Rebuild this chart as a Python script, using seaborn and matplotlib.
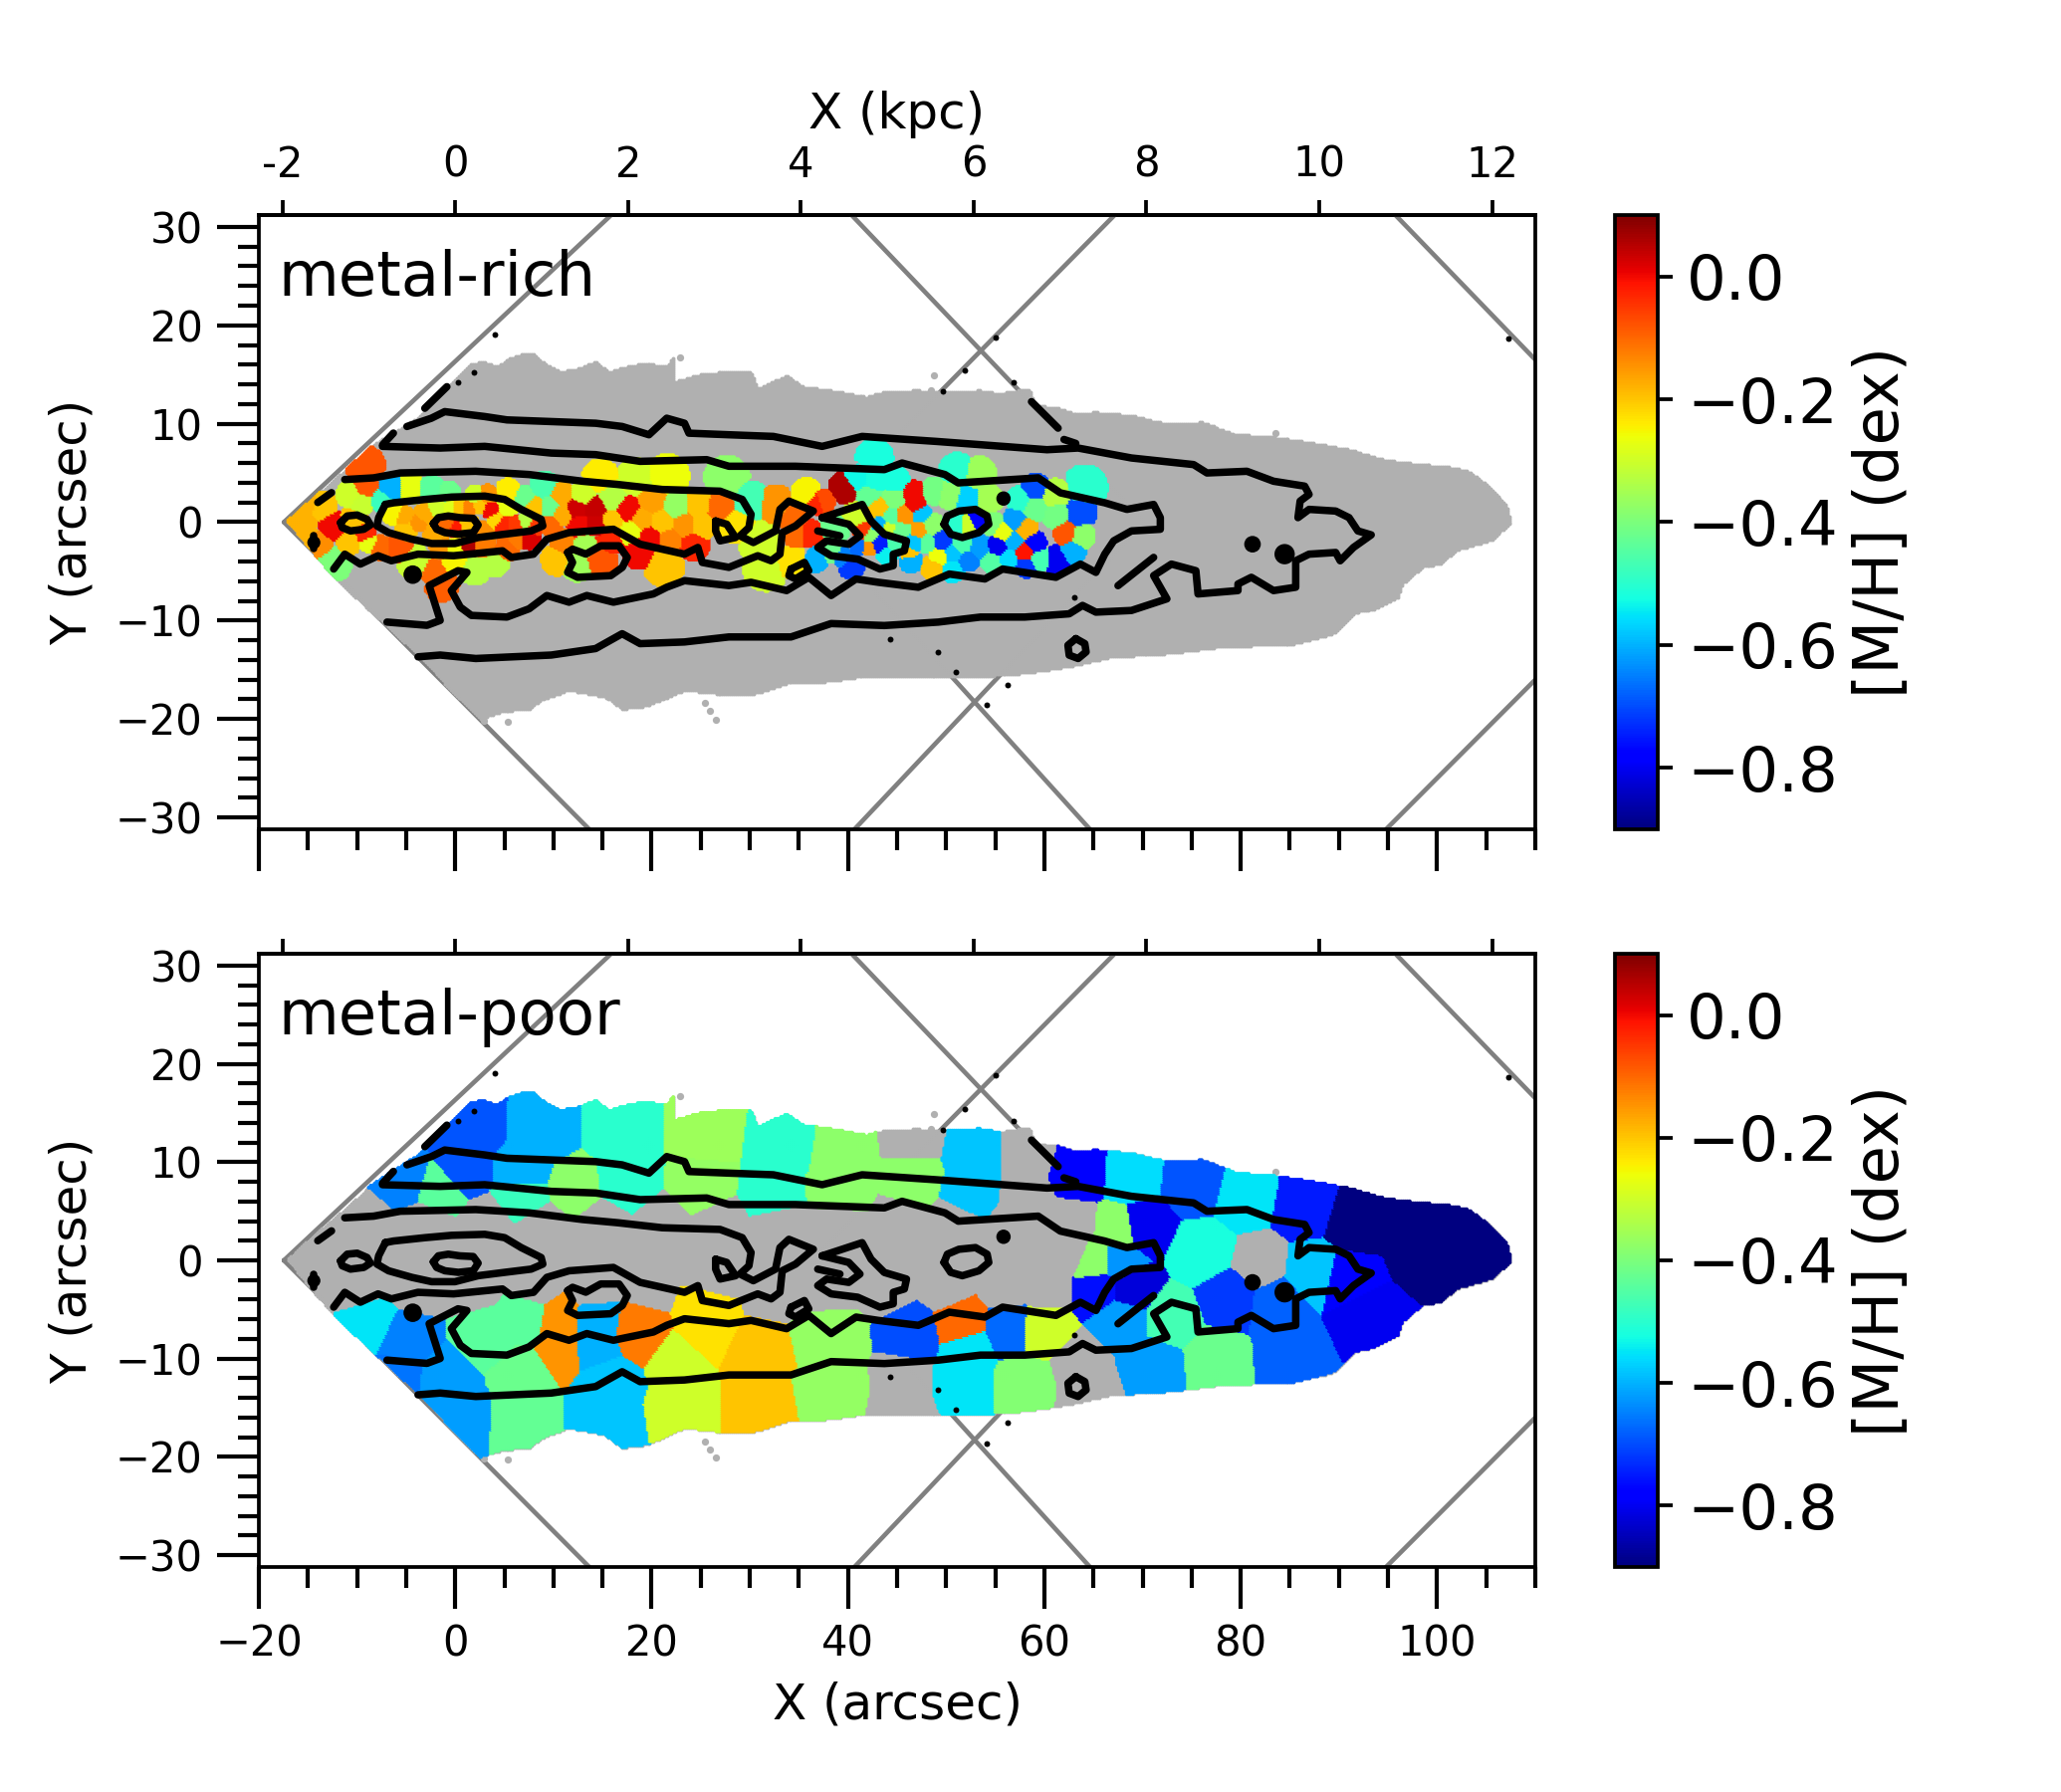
#!/usr/bin/env python3
# -*- coding: utf-8 -*-

"""Metal-rich / metal-poor [M/H] Voronoi maps with surface brightness contours"""

import numpy as np
import pandas as pd
import matplotlib
matplotlib.use("Agg")
import matplotlib.pyplot as plt
from matplotlib.path import Path
from matplotlib.cm import ScalarMappable
from matplotlib.colors import Normalize
from matplotlib.ticker import MultipleLocator
import seaborn as sns

# galaxy footprint (arcsec)
outline = [
    (-17.13, 0.12), (-8.31, 7.87), (-3.79, 10.73), (0.74, 15.27), (1.64, 16.1), (3.0, 16.28), (4.13, 15.78),
    (5.26, 16.45), (6.4, 16.96), (7.97, 17.12), (8.88, 16.28), (10.69, 15.27), (12.5, 15.61), (14.3, 16.28),
    (15.66, 15.27), (17.92, 15.95), (19.73, 16.1), (21.54, 15.78), (22.22, 16.79), (22.22, 14.26), (25.16, 15.1),
    (27.87, 15.27), (30.13, 15.27), (30.81, 13.59), (33.75, 14.94), (35.56, 13.76), (38.28, 13.42), (41.89, 12.75),
    (43.7, 13.25), (46.87, 13.42), (49.87, 13.25), (53.49, 13.42), (55.3, 13.08), (58.46, 13.59), (58.92, 12.41),
    (59.37, 11.9), (61.63, 11.57), (63.3, 11.0), (65.25, 11.23), (68.87, 10.9), (72.48, 10.05), (76.1, 10.22),
    (79.72, 8.88), (83.5, 8.6), (87.41, 8.03), (91.03, 7.36), (94.65, 6.35), (98.0, 5.9), (101.0, 5.68),
    (103.24, 5.17), (105.5, 3.5), (107.3, 1.47), (107.54, -0.22), (105.5, -1.9), (101.9, -2.91), (100.53, -4.26),
    (98.5, -4.6), (96.46, -6.28), (96.0, -7.62), (93.29, -8.97), (91.6, -9.3), (89.67, -11.33), (85.15, -12.5),
    (78.37, -12.67), (71.58, -13.5), (67.06, -13.68), (62.53, -14.69), (58.01, -15.37), (53.49, -15.7),
    (44.44, -15.6), (41.44, -15.7), (37.8, -16.2), (33.75, -16.4), (30.58, -17.4), (27.87, -17.55), (23.35, -17.05),
    (21.09, -18.06), (19.73, -18.73), (17.0, -19.07), (15.2, -17.72), (11.59, -17.05), (8.88, -18.06),
    (7.52, -19.07), (4.8, -19.3), (2.54, -20.08), (1.64, -19.07), (-4.69, -12.67), (-12.38, -5.6),
]
stray_x = [25.4, 25.9, 26.5, 48.74, 48.4, 83.57, 22.9, 2.9, 5.4]
stray_y = [-18.4, -19.2, -20.1, 14.87, 13.4, 9.05, 16.7, -20.2, -20.3]

# MUSE field edges (arcsec)
field1_x = [-17.45, 28.8, 70.2, 27.5, -17.45]
field1_y = [0.0, 43.3, 0.0, -45.1, 0.0]
field2_x = [36.3, 81.6, 126.0, 79.0, 36.3]
field2_y = [0.0, 45.8, 0.0, -47.0, 0.0]

# metal-rich bins
rich_x = [-15.57, -15.0, -15.0, -13.54, -12.36, -13.88, -12.53, -10.67, -9.49, -9.15, -8.98, -6.62, -7.46,
          -4.42, -2.4, -0.71, 2.0, 3.34, 5.37, 7.06, 9.09, 9.59, 8.07, -10.33, -9.15, -10.67, -8.81, -7.63,
          -5.77, -6.28, -5.1, -3.75, -4.93, -3.07, -1.72, -0.54, 0.48, 1.49, 2.5, 3.58, 4.19, 5.37, 4.86, 6.2,
          7.23, 8.07, -0.71, -0.03, 1.32, -2.06, 3.0, 6.38, 7.57, -1.38, 0.14, 1.39, 3.0, 5.37, -4.08, -2.06,
          -1.38, 2.0, 4.02, -0.03, 10.43,
          10.77, 10.94, 9.76, 12.97, 14.82, 12.46, 14.32, 12.63, 14.32, 11.11, 13.13, 12.46, 14.82, 16.0, 17.69,
          16.07, 17.86, 15.84, 18.37, 21.58, 20.06, 19.04, 19.89, 18.7, 21.24, 21.17, 21.91, 22.59, 23.43, 24.28,
          24.78, 25.29, 26.98, 27.66, 30.02, 28.67, 32.72, 35.76, 31.03, 31.7, 34.4, 34.75, 34.4, 36.1, 36.94,
          36.94,
          39.65, 37.46, 42.69, 41.0, 42.69, 44.88, 42.18, 44.72, 46.74, 46.91, 48.77, 43.2, 44.38, 45.9, 47.52,
          50.29, 51.13, 53.33, 52.31, 54.17, 54.85, 45.56, 47.25, 48.6, 48.09, 49.61, 50.96, 52.31, 53.16, 51.64,
          53.5, 55.29, 55.86, 57.04, 57.04, 58.22, 59.07, 57.55, 59.07, 61.1, 61.26, 63.63, 62.28, 63.8, 64.13,
          59.07, 58.05, 56.37, 54.68, 52.31, 50.8, 49.27, 48.77, 50.62, 58.22, 59.58, 61.36, 62.95,
          38.8, 40.83, 42.35, 44.04, 44.88, 43.2, 42.18, 41.17, 41.5, 40.33, 38.47, 36.78, 39.48, 44.04, 46.24,
          46.4, 46.74, 43.3]
rich_y = [0.29, 2.0, -2.0, 1.64, -0.38, -2.23, -4.09, 2.82, 1.97, 5.68, 3.66, 3.49, 2.31,
          3.32, 3.32, 2.98, 2.8, 2.8, 3.15, 2.48, 3.66, 1.64, 1.64, 0.29, -1.22, -1.9, -2.07, -2.57,
          -2.57, 0.96, 0.63, -0.05, -0.72, 0.8, 1.47, 1.47, 1.47, 1.47, 1.64, 1.3, 0.29, 1.64, -0.21, -0.21,
          0.12, -0.38, -0.21, -0.55, -0.38, -1.06, -1.06, -1.73, -1.73, -2.57, -2.57, -2.4, -2.4, -2.57, -4.09, -5.1,
          -6.27, -4.76, -4.09, -3.92, -3.75,
          2.82, 0.8, -0.21, 2.82, 4.5, 1.47, 1.47, -0.21, -0.15, -2.07, -2.4, -4.42, -3.85, 2.48, 1.3,
          0.12, -0.89, -1.73, 4.33, 4.67, 2.14, 0.46, -1.56, -3.08, -4.42, 0.12, -1.73, 1.64, -0.21, -2.24,
          1.81, -0.21, 1.47, 4.33, 2.14, -0.21, 1.81, 2.98, -1.9, -4.59, 0.46, -1.22, -3.92, -1.22, -3.41,
          1.97,
          3.49, 2.14, 6.52, 4.5, 4.33, 4.16, 2.82, 2.48, 2.98, 1.97, 3.15, 1.47, 0.63, 0.73, 0.8,
          2.82, 5.17, 4.84, 2.31, 2.31, -0.21, -0.72, -0.72, -0.21, -2.07, -1.9, -0.21, -0.21, 0.19, -2.24,
          -2.57, -2.4, -0.89, 0.29, -1.9, -0.62, 1.47, 2.31, 3.49, 2.82, 0.8, 0.96, -1.06, -1.39, 3.49,
          -2.07, -2.91, -3.58, -3.92, -3.75, -3.08, -3.41, -4.59, -4.76, -4.42, -3.75, -3.92, -2.91,
          -0.55, 0.63, -1.39, -0.55, -2.24, -2.24, -2.57, -2.4, -0.89, -4.42, -3.07, -3.92, -3.58, -3.25, -3.08,
          -3.92, -2.07, -0.22]
rich_mh = [-0.18, -0.18, -0.18, -0.2, 0.0, -0.14, -0.4, -0.3, -0.31, -0.08, -0.08, -0.6, -0.48,
           -0.27, -0.44, -0.42, -0.3, -0.15, -0.24, -0.42, -0.46, -0.42, -0.2, -0.2, -0.03, -0.2, -0.27, -0.1,
           -0.08, -0.25, -0.17, -0.15, -0.2, -0.17, -0.3, -0.28, -0.2, -0.13, -0.2, 0.0, -0.22, -0.27, -0.03, -0.05,
           -0.33, -0.05, -0.1, -0.02, -0.2, -0.17, -0.14, -0.12, 0.02, -0.15, -0.26, 0.06, -0.12, -0.1, -0.31, -0.1,
           -0.09, -0.33, -0.33, -0.25, -0.2,
           -0.17, -0.17, -0.1, -0.3, -0.24, 0.03, 0.04, 0.0, 0.03, -0.13, -0.35, -0.36, -0.08, -0.33, 0.0,
           -0.2, -0.27, -0.03, -0.3, -0.26, -0.16, -0.17, 0.0, 0.0, -0.2, -0.2, -0.13, -0.37, -0.15, -0.03,
           -0.2, -0.2, -0.1, -0.38, -0.47, -0.23, -0.15, -0.25, -0.3, -0.3, -0.1, -0.1, -0.23, -0.03, -0.6,
           -0.03,
           0.06, -0.07, -0.52, -0.53, -0.52, -0.52, -0.43, -0.4, 0.0, 0.0, -0.41, -0.2, -0.44, -0.15, -0.58,
           -0.38, -0.5, -0.36, -0.57, -0.35, -0.4, -0.42, -0.16, -0.38, -0.44, -0.72, -0.5, -0.3, -0.78, -0.46,
           -0.62, -0.8, -0.27, -0.62, -0.6, -0.18, -0.42, -0.5, -0.7, -0.33, -0.41, -0.7, -0.08, -0.38, -0.5,
           -0.78, -0.01, -0.56, -0.45, -0.65, -0.58, -0.26, -0.2, -0.55, -0.72, -0.47, -0.8, -0.6,
           -0.42, -0.3, -0.38, -0.3, -0.46, -0.75, -0.15, -0.67, -0.05, -0.72, -0.42, -0.6, -0.65, -0.54, -0.2,
           -0.6, -0.58, -0.6]

# metal-poor bins, nan = no measurement (stays grey)
poor_x = [1.64, 0.74, 8.88, 7.07, 17.02, 17.47, 25.61, 25.16, 12.04, 33.3, 32.4, 39.63, 39.18, -5.14, -1.53, 7.07,
          -8.76, -5.15, -5.82, -1.07, 0.28, 3.45, 7.07, 7.07, 7.07, 10.69, 10.69, 14.3, 14.3, 15.66, 15.21, 18.83,
          22.9, 23.35, 25.61, 25.4, 30.58, 30.8, 38.28, 38.5,
          46.5, 51.68, 52.36, 51.68, 56.43, 59.82, 58.01, 53.04, 52.6, 46.5, 63.67, 68.87, 75.2, 80.63, 86.5,
          98.72, 93.29, 101.0, 91.9, 92.84, 70.2, 76.1, 87.41, 78.82, 83.8, 85.15, 77.46, 71.13, 72.94, 67.96,
          68.87, 65.7, 67.51, 65.4, 67.51, 91.0,
          -14.0, -9.0, -3.0, 3.0, 9.0, 15.0, 21.0, 27.0, 33.0, 39.0, 45.0, 51.0, 57.0, 63.0,
          -10.0, -4.0, 2.0, 8.0, 14.0, 20.0, 26.0, 32.0, 38.0, 44.0, 50.0, 56.0, 60.0, 62.5,
          46.5, 58.01, 58.01, 81.98, 45.5, 45.8, 63.44, 64.34]
poor_y = [13.35, 9.31, 13.02, 8.98, 13.02, 7.97, 13.02, 7.63, 7.29, 12.0, 6.62, 11.0, 6.96, 8.3, 7.29, 6.62,
          -6.51, -8.2, -11.57, -12.24, -15.6, -7.52, -5.84, -11.23, -15.94, -8.87, -6.5, -6.51, -8.5, -12.24, -15.94, -7.19,
          -10.2, -14.6, -7.19, -4.5, -9.54, -14.6, -7.86, -13.25,
          -7.53, -6.5, -8.87, -12.24, -7.02, -7.19, -12.24, 10.66, 6.96, 8.5, 8.88, 8.54, 7.87, 6.52, 5.51,
          1.13, 4.5, 1.2, 3.9, -5.5, 3.59, 0.89, -1.1, -3.82, -4.5, -9.2, -9.89, -10.55, -5.84, -5.84,
          -2.81, -2.64, -0.2, -0.22, 3.15, -1.9,
          0.0, 3.6, 3.6, 3.6, 3.6, 3.6, 3.6, 3.6, 3.6, 3.6, 3.6, 3.6, 3.6, 3.6,
          -2.5, -2.5, -2.5, -2.5, -2.5, -2.5, -2.0, -2.5, -2.5, -2.5, -2.5, -2.5, -2.5, 1.0,
          12.0, 10.56, 6.2, -0.45, -14.5, -12.0, -10.55, -12.9]
nan = float("nan")
poor_mh = [-0.69, -0.69, -0.6, -0.6, -0.5, -0.5, -0.36, -0.37, -0.38, -0.5, -0.5, -0.38, -0.38, -0.65, -0.44, -0.48,
           -0.55, -0.65, -0.66, -0.62, -0.62, -0.44, -0.44, -0.42, -0.43, -0.15, -0.15, -0.6, -0.6, -0.58, -0.58, -0.12,
           -0.3, -0.3, -0.23, -0.23, -0.2, -0.2, -0.37, -0.37,
           -0.7, -0.1, -0.55, -0.55, -0.67, -0.3, -0.39, -0.58, -0.58, -0.38, -0.79, -0.56, -0.69, -0.55, -0.75,
           -0.9, -0.9, -0.9, -0.9, -0.8, -0.8, -0.52, -0.58, -0.72, -0.68, -0.68, -0.42, -0.62, -0.47, -0.62,
           -0.82, -0.76, -0.63, -0.38, -0.38, -0.78,
           nan, nan, nan, nan, nan, nan, nan, nan, nan, nan, nan, nan, nan, nan,
           nan, nan, nan, nan, nan, nan, nan, nan, nan, nan, nan, nan, nan, nan,
           nan, nan, nan, nan, nan, nan, nan, nan]

# isophotes
iso_outer = [(-4.92, 9.72), (-2.43, 10.56), (-1.07, 11.23), (3.0, 10.73), (5.26, 10.39), (9.78, 10.22), (14.3, 10.05),
             (17.0, 9.72), (19.73, 8.88), (21.54, 10.56), (23.35, 10.05), (23.8, 9.04), (27.87, 8.88), (32.4, 8.71),
             (37.37, 7.7), (41.44, 8.71), (49.04, 8.2), (53.49, 7.87), (60.27, 7.36), (63.44, 7.53), (68.87, 6.52),
             (75.2, 5.85), (76.56, 5.0), (80.63, 5.17), (83.34, 4.16), (86.51, 3.66), (86.96, 2.82), (86.05, 2.14),
             (85.83, 0.46), (86.96, 1.3), (89.67, 1.13), (91.03, 0.46), (91.93, -0.89), (93.29, -1.29), (91.48, -2.57),
             (90.13, -3.92), (89.67, -3.08), (86.96, -3.25), (85.6, -3.92), (85.6, -6.61), (83.34, -6.95), (81.08, -5.6),
             (79.72, -6.28), (79.72, -6.95), (75.65, -7.29), (75.43, -4.93), (72.94, -4.26), (71.13, -5.43),
             (72.48, -7.79), (68.87, -8.97), (65.25, -9.14), (63.89, -8.46), (62.53, -9.31), (58.01, -9.64),
             (53.49, -9.64), (49.2, -10.15), (43.7, -10.5), (38.28, -10.3), (34.2, -11.66), (27.87, -11.66),
             (23.35, -12.17), (18.83, -12.34), (17.0, -11.33), (14.3, -12.84), (9.78, -13.5), (2.09, -13.85),
             (-1.53, -13.5), (-3.79, -13.68)]
iso_second = [(-7.41, 7.7), (-1.53, 7.53), (3.0, 7.7), (9.78, 7.02), (14.3, 6.86), (18.83, 6.18), (25.61, 6.35),
              (27.87, 5.68), (34.66, 5.68), (43.7, 5.34), (45.51, 6.01), (49.87, 4.84), (51.23, 3.99), (59.37, 4.5),
              (61.63, 2.98), (66.15, 1.97), (68.41, 1.3), (71.13, 1.8), (71.81, 0.46), (71.81, -0.72), (68.87, -0.89),
              (67.06, -1.9), (66.15, -3.25), (65.25, -5.1), (63.67, -4.26), (61.18, -5.6), (55.75, -4.76),
              (53.94, -5.77), (50.32, -5.27), (47.16, -6.61), (43.09, -6.11), (40.82, -5.77), (38.28, -7.45),
              (36.01, -5.6), (33.75, -6.95), (30.13, -6.11), (27.87, -6.44), (23.35, -5.94), (21.54, -6.61),
              (20.18, -7.29), (16.11, -8.13), (13.4, -7.45), (11.59, -8.13), (9.33, -7.45), (7.52, -8.8), (5.26, -9.64),
              (1.64, -9.47), (0.51, -8.63), (-0.4, -6.95), (1.19, -5.1), (0.28, -4.93), (-2.66, -6.44), (-1.53, -9.98),
              (-2.88, -10.48), (-6.95, -10.15)]
iso_third = [(-11.25, 4.33), (-8.31, 4.5), (-5.6, 5.0), (2.09, 5.17), (7.52, 4.84), (12.95, 4.16), (16.56, 3.83),
             (21.09, 3.32), (26.97, 3.15), (29.23, 2.31), (30.13, 0.8), (29.91, -0.55), (29.0, -1.39), (30.36, -2.07),
             (32.62, -0.89), (33.07, 1.3), (33.98, 2.14), (36.47, 1.13), (34.66, -0.38), (33.3, -1.06), (33.07, -3.25),
             (32.17, -3.92), (30.81, -3.41), (27.87, -4.59), (25.16, -4.09), (24.71, -2.57), (23.35, -3.25),
             (18.83, -2.24), (16.11, -0.72), (11.59, -1.06), (9.33, -1.73), (7.97, -3.25), (5.71, -3.58), (4.81, -2.91),
             (-0.17, -3.41), (-3.79, -3.25), (-6.5, -3.92), (-7.86, -3.41), (-9.67, -4.26), (-11.25, -3.25),
             (-12.38, -4.76)]
iso_knot = [(37.37, 0.46), (41.44, 1.8), (42.35, 0.12), (43.7, -1.23), (45.96, -1.9), (45.74, -2.91), (44.61, -3.25),
            (44.61, -4.42), (43.25, -4.76), (40.99, -3.75), (38.28, -3.41), (36.92, -2.57), (37.82, -1.9), (40.08, -2.24),
            (41.22, -1.39), (40.08, -0.21), (37.37, 0.46)]
# closed loops
iso_loops = [
    [(-7.12, 1.81), (-6.28, 1.97), (-3.07, 2.31), (-0.37, 2.55), (3.01, 2.65), (5.03, 2.31), (6.72, 1.3), (8.75, 0.29),
     (8.92, -0.38), (7.73, -0.89), (5.03, -1.22), (2.33, -1.56), (-0.03, -2.17), (-2.4, -2.17), (-4.42, -1.73),
     (-6.79, -1.06), (-7.97, -0.38), (-7.8, 0.46)],
    [(-2.23, -0.15), (-1.72, 0.46), (-0.71, 0.63), (0.47, 0.46), (1.83, 0.39), (2.33, -0.28), (1.83, -1.06), (0.31, -1.22),
     (-1.05, -1.06), (-1.89, -0.72)],
    [(-11.68, -0.05), (-11.0, 0.63), (-9.99, 0.73), (-8.98, 0.29), (-8.64, -0.28), (-9.32, -0.72), (-10.67, -0.89),
     (-11.51, -0.55)],
    [(11.45, -3.08), (11.95, -2.74), (13.3, -3.24), (14.82, -2.4), (16.68, -2.4), (17.52, -3.58), (17.02, -4.59),
     (15.84, -5.43), (12.46, -5.6), (11.45, -5.1), (11.95, -4.09)],
    [(34.2, -4.76), (35.56, -4.09), (36.01, -4.93), (34.66, -5.77), (33.98, -5.43)],
    [(26.52, 0.12), (27.65, -0.21), (28.55, -1.56), (26.97, -1.9), (26.52, -0.89)],
    [(49.78, -0.21), (50.12, 0.63), (51.3, 1.13), (52.99, 1.3), (54.17, 0.63), (54.34, -0.21), (53.33, -1.06),
     (51.64, -1.56), (50.46, -1.22)],
    [(63.21, -11.83), (64.12, -12.34), (64.25, -13.18), (63.44, -13.85), (62.53, -13.51), (62.4, -12.5)],
]
iso_bits = [
    [(36.92, -0.89), (39.18, -1.39)],
    [(67.5, -6.45), (71.13, -3.58)],
    [(-3.1, 11.57), (-0.85, 13.76)],
    [(58.69, 12.24), (61.4, 9.55)],
    [(62.0, 8.4), (63.2, 8.0)],
    [(-14.0, 2.0), (-12.6, 3.0)],
    [(-7.4, 7.85), (-6.3, 9.05)],
    [(-14.4, -1.4), (-14.4, -2.7)],
]
blob_x = [55.84, 81.2, 84.47, -4.33, -14.4]
blob_y = [2.4, -2.24, -3.25, -5.33, -2.07]
blob_s = [12, 16, 24, 20, 10]
speck_x = [49.64, 55.07, 51.9, 56.9, 107.3, 4.0, 56.3, 51.0, 49.2, 54.1, 63.0, 44.3, 1.9, 0.3]
speck_y = [13.25, 18.8, 15.4, 14.16, 18.64, 19.05, -16.5, -15.2, -13.2, -18.6, -7.6, -11.9, 15.2, 14.2]

# kpc axis
arcsec_per_kpc = 8.8
kpc_ticks = [-2, 0, 2, 4, 6, 8, 10, 12]
kpc_labels = ["-2", "0", "2", "4", "6", "8", "10", "12"]
cbar_ticks = [0.0, -0.2, -0.4, -0.6, -0.8]
MH_MIN, MH_MAX = -0.9, 0.1


def make_pixels():
    """footprint pixels, one spaxel about 0.2 arcsec"""
    gx, gy = np.meshgrid(np.arange(-18, 108, 0.2), np.arange(-21, 18, 0.2))
    pts = np.column_stack([gx.ravel(), gy.ravel()])
    return pts[Path(outline).contains_points(pts)]


def bin_values(pts, bx, by, vals, tight=False):
    """nearest bin value for each pixel, tight=True leaves pixels far from any bin empty"""
    bx, by, vals = np.asarray(bx), np.asarray(by), np.asarray(vals)
    d2 = (pts[:, 0, None] - bx) ** 2 + (pts[:, 1, None] - by) ** 2
    idx = d2.argmin(axis=1)
    out = vals[idx]
    if tight:
        # bin size follows the spacing to its neighbours
        dd = np.hypot(bx[:, None] - bx, by[:, None] - by)
        dd.sort(axis=1)
        radius = 0.72 * dd[:, 1:4].mean(axis=1)
        out = np.where(np.sqrt(d2.min(axis=1)) <= radius[idx], out, np.nan)
    return out


def draw_isophotes(ax):
    paths = [iso_outer, iso_second, iso_third, iso_knot] + iso_bits + [l + l[:1] for l in iso_loops]
    for path in paths:
        xy = np.array(path)
        sns.lineplot(x=xy[:, 0], y=xy[:, 1], sort=False, estimator=None, color="k", lw=1.8,
                     solid_joinstyle="round", ax=ax, zorder=5)
    sns.scatterplot(x=blob_x, y=blob_y, size=blob_s, sizes=(10, 24), color="k", linewidth=0,
                    legend=False, ax=ax, zorder=5)
    sns.scatterplot(x=speck_x, y=speck_y, color="k", s=2, linewidth=0, legend=False, ax=ax, zorder=5)


def draw_panel(fig, rect, cax_rect, pts, mh, name, show_xlabel):
    ax = fig.add_axes(rect)
    # field edges sit under the map
    for fx, fy in [(field1_x, field1_y), (field2_x, field2_y)]:
        sns.lineplot(x=fx, y=fy, sort=False, estimator=None, color="gray", lw=1.1, ax=ax, zorder=1)

    sns.scatterplot(x=pts[:, 0], y=pts[:, 1], color="#b0b0b0", s=0.9, linewidth=0, legend=False, ax=ax, zorder=2)
    sns.scatterplot(x=stray_x, y=stray_y, color="#b0b0b0", s=3, linewidth=0, legend=False, ax=ax, zorder=2)
    good = np.isfinite(mh)
    df = pd.DataFrame({"x": pts[good, 0], "y": pts[good, 1], "mh": mh[good]})
    sns.scatterplot(data=df, x="x", y="y", hue="mh", palette=plt.get_cmap("jet"), hue_norm=(MH_MIN, MH_MAX),
                    s=0.9, linewidth=0, legend=False, ax=ax, zorder=3)
    draw_isophotes(ax)

    ax.set_xlim(-20, 110)
    ax.set_ylim(-31.2, 31.2)
    ax.xaxis.set_major_locator(MultipleLocator(20))
    ax.xaxis.set_minor_locator(MultipleLocator(5))
    ax.yaxis.set_major_locator(MultipleLocator(10))
    ax.yaxis.set_minor_locator(MultipleLocator(2))
    ax.tick_params(which="major", length=10, width=1, labelsize=10)
    ax.tick_params(which="minor", length=5, width=1)
    ax.set_ylabel("Y (arcsec)", fontsize=12, labelpad=4.5)
    if show_xlabel:
        ax.set_xlabel("X (arcsec)", fontsize=12, labelpad=4)
    else:
        ax.set_xlabel("")
        ax.tick_params(labelbottom=False)
    ax.text(0.015, 0.868, name, transform=ax.transAxes, fontsize=15, va="baseline", zorder=6)

    top = ax.secondary_xaxis("top", functions=(lambda a: a / arcsec_per_kpc, lambda k: k * arcsec_per_kpc))
    top.set_xticks(kpc_ticks)
    top.tick_params(length=3.5, width=0.9, labelsize=10)
    if show_xlabel:
        top.set_xticklabels([])
    else:
        top.set_xticklabels(kpc_labels)
        top.set_xlabel("X (kpc)", fontsize=12, labelpad=3.7)

    cax = fig.add_axes(cax_rect)
    sm = ScalarMappable(norm=Normalize(MH_MIN, MH_MAX), cmap="jet")
    cb = fig.colorbar(sm, cax=cax, ticks=cbar_ticks)
    cb.ax.tick_params(length=3.5, width=0.9, labelsize=15)
    cb.set_label("[M/H] (dex)", fontsize=15, labelpad=3.5)
    return ax


def main():
    sns.set_style("ticks")
    plt.rcParams["font.family"] = ["DejaVu Sans"]
    plt.rcParams["axes.linewidth"] = 0.9
    for key in ["text.color", "axes.labelcolor", "axes.edgecolor", "xtick.color", "ytick.color"]:
        plt.rcParams[key] = "black"

    pts = make_pixels()
    mh_rich = bin_values(pts, rich_x, rich_y, rich_mh, tight=True)
    mh_poor = bin_values(pts, poor_x, poor_y, poor_mh)

    W, H = 2070.0, 1800.0
    fig = plt.figure(figsize=(6.9, 6.0), dpi=300)

    def rect(x0, y0, x1, y1):
        return [x0 / W, 1 - y1 / H, (x1 - x0) / W, (y1 - y0) / H]

    draw_panel(fig, rect(260, 216, 1542, 833), rect(1622, 216, 1665, 833), pts, mh_rich, "metal-rich", False)
    draw_panel(fig, rect(260, 958, 1542, 1574), rect(1622, 958, 1665, 1574), pts, mh_poor, "metal-poor", True)

    fig.savefig("out.png", dpi=300, facecolor="white")


if __name__ == "__main__":
    main()
